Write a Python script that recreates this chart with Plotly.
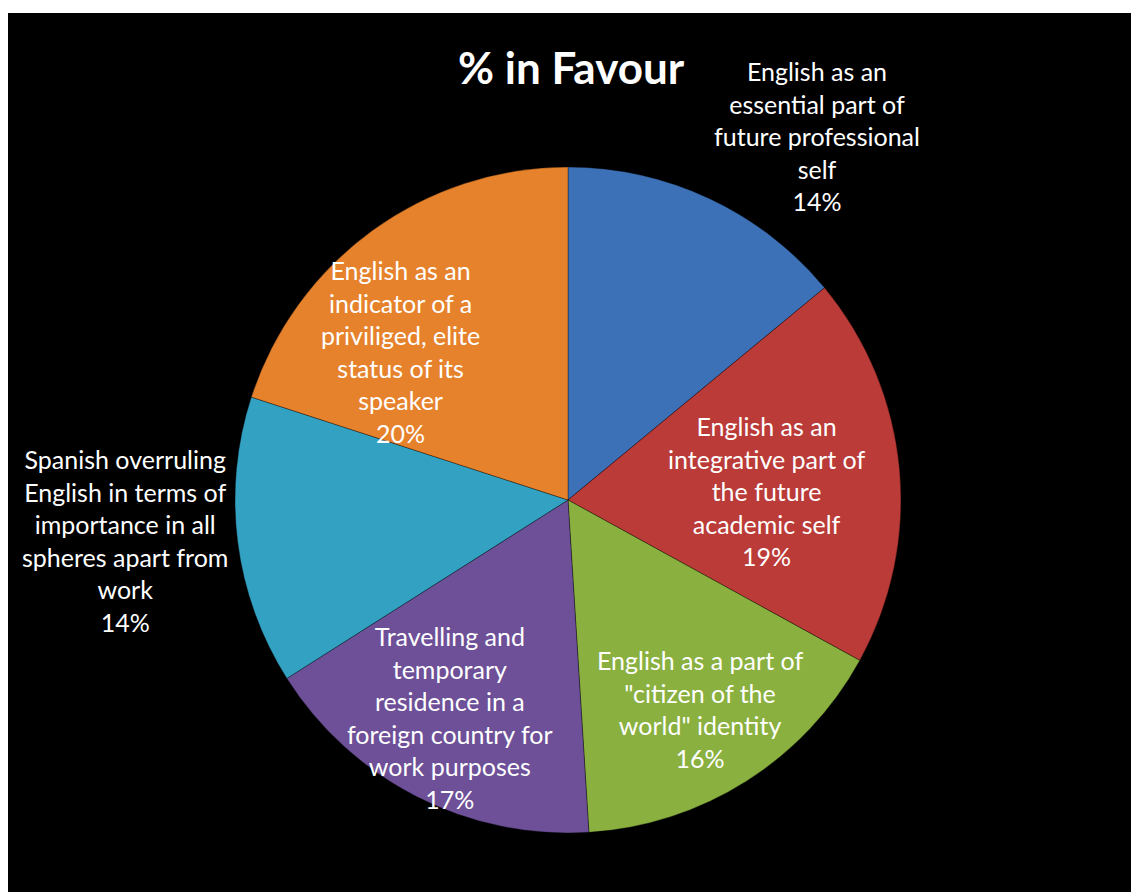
import plotly.graph_objects as go

# Categories (clockwise from 12 o'clock) and their share in %
labels = [
    "English as an<br>essential part of<br>future professional<br>self",
    "English as an<br>integrative part of<br>the future<br>academic self",
    "English as a part of<br>\"citizen of the<br>world\" identity",
    "Travelling and<br>temporary<br>residence in a<br>foreign country for<br>work purposes",
    "Spanish overruling<br>English in terms of<br>importance in all<br>spheres apart from<br>work",
    "English as an<br>indicator of a<br>priviliged, elite<br>status of its<br>speaker",
]
values = [14, 19, 16, 17, 14, 20]

colors = ["#3C70B7", "#BA3B37", "#8AB03F", "#6D5098", "#33A1C2", "#E6822C"]

W, H = 1131, 892
ML, MT = 8, 13          # white frame left / top
PW, PH = W - ML, H - MT  # plotting paper size in px


def px_x(x):
    return (x - ML) / PW


def px_y(y):
    return (H - y) / PH


# Pie centre and radius in px
CX, CY, R = 568, 500, 333

# Label centres in px
label_pos = [(817, 136), (766, 491), (700, 709), (450, 717), (125, 540), (400, 351)]

fig = go.Figure()
fig.add_trace(go.Pie(
    labels=[l.replace("<br>", " ") for l in labels],
    values=values,
    sort=False,
    direction="clockwise",
    rotation=0,
    textinfo="none",
    hoverinfo="label+percent",
    marker=dict(colors=colors, line=dict(color="rgba(0,0,0,0.35)", width=1)),
    domain=dict(x=[px_x(CX - R), px_x(CX + R)], y=[px_y(CY + R), px_y(CY - R)]),
    showlegend=False,
))

annotations = []
for lab, v, (x, y) in zip(labels, values, label_pos):
    annotations.append(dict(
        text=f"{lab}<br>{v}%",
        x=px_x(x), y=px_y(y), xref="paper", yref="paper",
        xanchor="center", yanchor="middle", showarrow=False, align="center",
        font=dict(family="Lato", size=25, color="white"),
    ))

annotations.append(dict(
    text="<b>% in Favour</b>",
    x=px_x(571), y=px_y(67), xref="paper", yref="paper",
    xanchor="center", yanchor="middle", showarrow=False,
    font=dict(family="Lato", size=44, color="white"),
))

fig.update_layout(
    width=W, height=H,
    margin=dict(l=ML, t=MT, r=0, b=0),
    paper_bgcolor="white",
    plot_bgcolor="black",
    shapes=[dict(type="rect", xref="paper", yref="paper", x0=0, x1=1, y0=0, y1=1,
                 fillcolor="black", line=dict(width=0), layer="below")],
    annotations=annotations,
)

fig.write_html("out.html")
